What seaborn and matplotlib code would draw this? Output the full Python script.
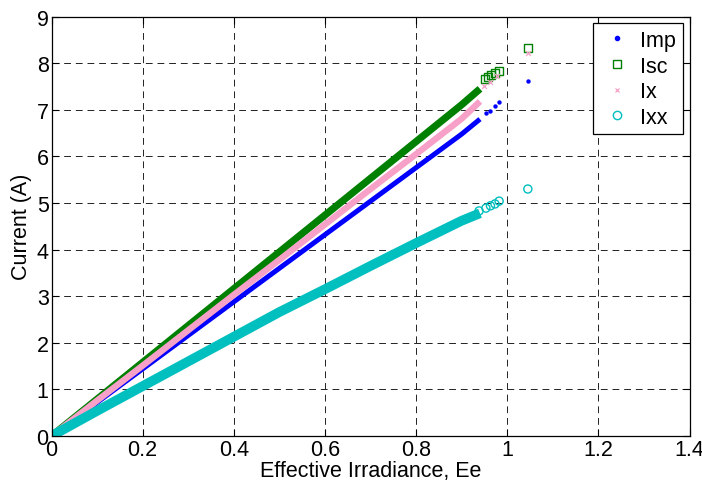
import matplotlib
matplotlib.use("Agg")
import matplotlib.pyplot as plt
from matplotlib.lines import Line2D
import seaborn as sns
import pandas as pd

# ---- data ----
series = ["Imp", "Isc", "Ix", "Ixx"]

# dense bands (effective irradiance vs current)
ee_band = [0.00, 0.10, 0.20, 0.30, 0.40, 0.50, 0.60, 0.70, 0.80, 0.90, 0.94]
imp_band = [0.00, 0.72, 1.44, 2.16, 2.88, 3.60, 4.32, 5.04, 5.76, 6.48, 6.80]
isc_band = [0.00, 0.79, 1.58, 2.37, 3.16, 3.95, 4.74, 5.53, 6.32, 7.11, 7.45]
ix_band = [0.00, 0.76, 1.51, 2.27, 3.03, 3.78, 4.54, 5.30, 6.05, 6.81, 7.18]
ixx_band = [0.00, 0.54, 1.07, 1.60, 2.13, 2.66, 3.15, 3.65, 4.14, 4.62, 4.78]

# sparse points at the top end of each band, plus the isolated point
imp_tail_ee = [0.953, 0.962, 0.973, 0.982, 1.045]
imp_tail = [6.93, 6.98, 7.08, 7.16, 7.61]
isc_tail_ee = [0.951, 0.958, 0.965, 0.973, 0.982, 1.045]
isc_tail = [7.66, 7.70, 7.75, 7.79, 7.84, 8.32]
ix_tail_ee = [0.949, 0.963, 0.978, 1.045]
ix_tail = [7.52, 7.59, 7.72, 8.21]
ixx_tail_ee = [0.938, 0.953, 0.963, 0.973, 0.982, 1.045]
ixx_tail = [4.83, 4.89, 4.94, 4.98, 5.04, 5.30]

x_ticks = [0, 0.2, 0.4, 0.6, 0.8, 1, 1.2, 1.4]
x_tick_labels = ["0", "0.2", "0.4", "0.6", "0.8", "1", "1.2", "1.4"]
y_ticks = [0, 1, 2, 3, 4, 5, 6, 7, 8, 9]
x_label = "Effective Irradiance, Ee"
y_label = "Current (A)"

# ---- styling ----
FS = 15.5
colors = {"Imp": "#0000FF", "Isc": "#008000", "Ix": "#F7A0C8", "Ixx": "#00BFBF"}
band_lw = {"Imp": 3.6, "Isc": 5.2, "Ix": 4.6, "Ixx": 7.0}
band_z = {"Imp": 3, "Isc": 4, "Ix": 5, "Ixx": 6}
sns.set_style("ticks")
plt.rcParams["font.family"] = ["Liberation Sans", "DejaVu Sans"]
plt.rcParams["text.color"] = "black"
plt.rcParams["axes.labelcolor"] = "black"

band_df = pd.concat([
    pd.DataFrame({"Ee": ee_band, "I": imp_band, "s": "Imp"}),
    pd.DataFrame({"Ee": ee_band, "I": isc_band, "s": "Isc"}),
    pd.DataFrame({"Ee": ee_band, "I": ix_band, "s": "Ix"}),
    pd.DataFrame({"Ee": ee_band, "I": ixx_band, "s": "Ixx"}),
])
tail_df = pd.concat([
    pd.DataFrame({"Ee": imp_tail_ee, "I": imp_tail, "s": "Imp"}),
    pd.DataFrame({"Ee": isc_tail_ee, "I": isc_tail, "s": "Isc"}),
    pd.DataFrame({"Ee": ix_tail_ee, "I": ix_tail, "s": "Ix"}),
    pd.DataFrame({"Ee": ixx_tail_ee, "I": ixx_tail, "s": "Ixx"}),
])

fig = plt.figure(figsize=(7.02, 4.85), dpi=100)
ax = fig.add_axes([0.0734, 0.099, 0.909, 0.8647])

for s in series:
    d = band_df[band_df["s"] == s]
    sns.lineplot(data=d, x="Ee", y="I", ax=ax, color=colors[s], lw=band_lw[s],
                 solid_capstyle="butt", zorder=band_z[s], legend=False,
                 estimator=None, sort=False)

tail_style = {
    "Imp": dict(marker="o", s=10, color=colors["Imp"], linewidth=0),
    "Isc": dict(marker="s", s=34, facecolor="none", edgecolor=colors["Isc"], linewidth=1.0),
    "Ix": dict(marker="x", s=12, color=colors["Ix"], linewidth=0.9),
    "Ixx": dict(marker="o", s=34, facecolor="none", edgecolor=colors["Ixx"], linewidth=1.0),
}
for s in series:
    d = tail_df[tail_df["s"] == s]
    sns.scatterplot(data=d, x="Ee", y="I", ax=ax, zorder=band_z[s], legend=False,
                    **tail_style[s])

ax.set_xlim(0, 1.4)
ax.set_ylim(0, 9)
ax.set_xticks(x_ticks)
ax.set_xticklabels(x_tick_labels)
ax.set_yticks(y_ticks)
ax.set_xlabel(x_label, fontsize=FS, labelpad=0, color="black")
ax.set_ylabel(y_label, fontsize=FS, labelpad=3, color="black")
ax.tick_params(direction="in", length=5, width=0.8, labelsize=FS,
               top=True, right=True, pad=2, colors="black")
for sp in ax.spines.values():
    sp.set_visible(True)
    sp.set_color("black")
    sp.set_linewidth(0.9)
    sp.set_zorder(10)
ax.grid(True, color="#222222", linewidth=0.7, linestyle=(0, (7, 5)))
ax.set_axisbelow(True)

handles = [
    Line2D([], [], linestyle="none", marker="o", markersize=3, color=colors["Imp"]),
    Line2D([], [], linestyle="none", marker="s", markersize=6, markerfacecolor="none",
           markeredgecolor=colors["Isc"], markeredgewidth=1.0),
    Line2D([], [], linestyle="none", marker="x", markersize=3.5, color=colors["Ix"],
           markeredgewidth=0.9),
    Line2D([], [], linestyle="none", marker="o", markersize=6, markerfacecolor="none",
           markeredgecolor=colors["Ixx"], markeredgewidth=1.0),
]
leg = ax.legend(handles, series, loc="upper right", bbox_to_anchor=(0.989, 0.984),
                fontsize=FS, frameon=True, fancybox=False, edgecolor="black",
                framealpha=1, borderpad=0.3, labelspacing=0.22, handletextpad=0.3,
                handlelength=1.6, borderaxespad=0)
leg.get_frame().set_linewidth(0.9)
leg.set_zorder(20)
for t in leg.get_texts():
    t.set_color("black")

fig.savefig("out.png", dpi=100)
